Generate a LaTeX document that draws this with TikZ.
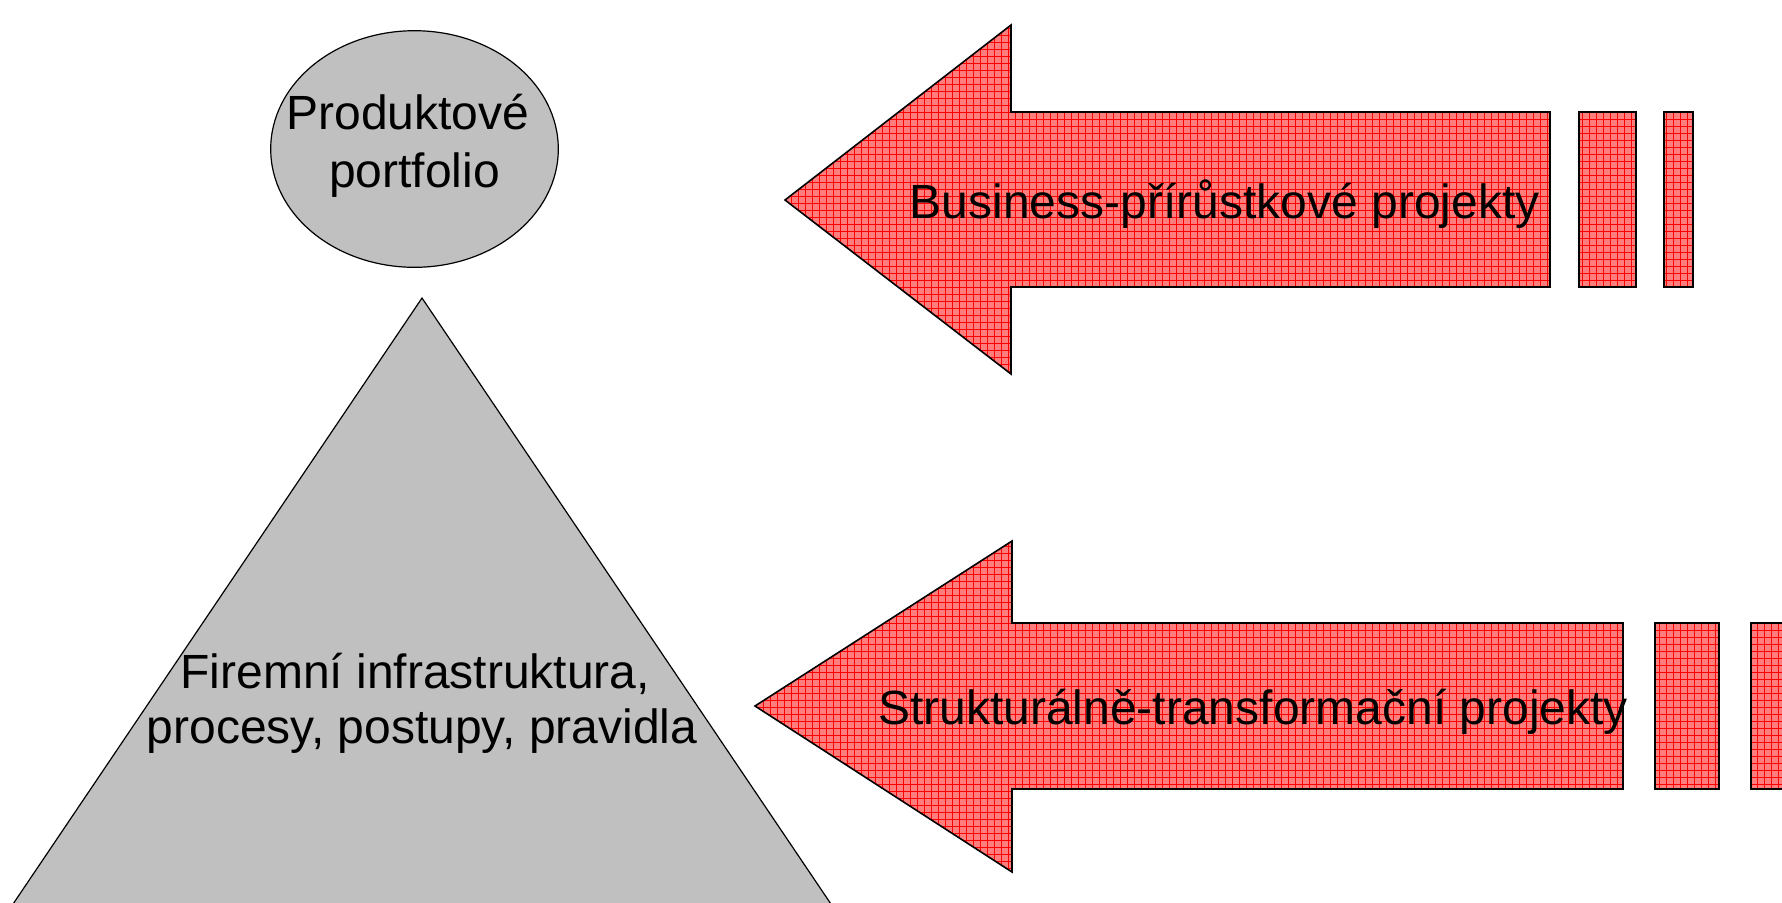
\documentclass[tikz,border=0pt]{standalone}
\usepackage{fontspec}
\setmainfont{Liberation Sans}

\definecolor{shapegray}{RGB}{192,192,192}
\definecolor{arrowpink}{RGB}{255,125,125}

\begin{document}
\begin{tikzpicture}[
        x=0.5pt, y=-0.5pt,
        every node/.style={font=\fontsize{24}{29}\selectfont},
        gray shape/.style={draw, fill=shapegray, line width=0.6pt},
        proj/.style={draw, line width=0.8pt, fill=arrowpink,
                     path picture={\draw[red, line width=0.3pt, step=3.5pt]
                        (path picture bounding box.south west) grid
                        (path picture bounding box.north east);}},
        label/.style={anchor=base, inner sep=0pt}
    ]
        \clip (0,0) rectangle (1782,902);

        % pyramid and ellipse
        \draw[gray shape] (422,298) -- (862,950) -- (-18,950) -- cycle;
        \draw[gray shape] (414.5,149) ellipse [x radius=143.8, y radius=118.3];
        \node[align=center, inner sep=0pt] (portfolio) at (414.5,146)
              {Produktové\hspace*{0.28em}\\portfolio};
        \node[align=center, inner sep=0pt, font=\fontsize{24}{27.5}\selectfont]
              (infra) at (422,703)
              {Firemní infrastruktura,\hspace*{0.28em}\\procesy, postupy, pravidla};

        % business arrow
        \draw[proj] (785,200) -- (1011,25) -- (1011,112) -- (1550,112)
                    -- (1550,287) -- (1011,287) -- (1011,374) -- cycle;
        \draw[proj] (1579,112) rectangle (1636,287);
        \draw[proj] (1664,112) rectangle (1693,287);
        \node[label] (bizproj) at (1224.7,218) {Business-přírůstkové projekty};

        % structural arrow
        \draw[proj] (755,706) -- (1012,541) -- (1012,623) -- (1623,623)
                    -- (1623,789) -- (1012,789) -- (1012,872) -- cycle;
        \draw[proj] (1655,623) rectangle (1719,789);
        \draw[proj] (1751,623) rectangle (1800,789);
        \node[label] (structproj) at (1253,724) {Strukturálně-transformační projekty};
    \end{tikzpicture}
\end{document}
